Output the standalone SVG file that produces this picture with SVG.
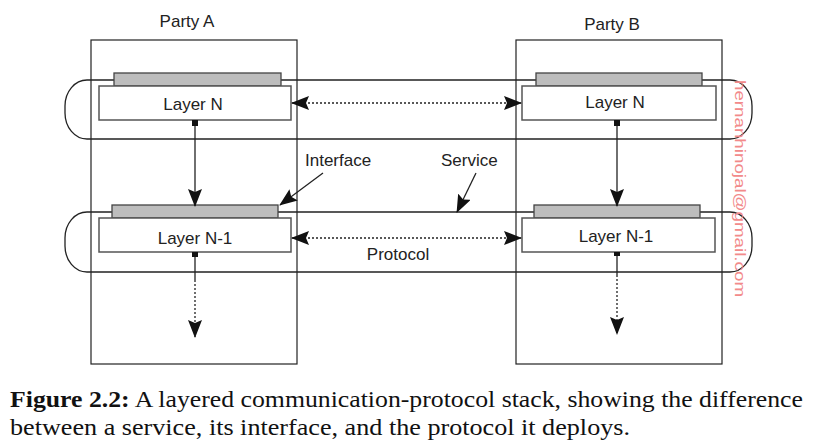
<svg xmlns="http://www.w3.org/2000/svg" width="840" height="448" viewBox="0 0 840 448">
<defs>
<marker id="ah" markerWidth="18" markerHeight="14" refX="17" refY="7" orient="auto" markerUnits="userSpaceOnUse">
<path d="M0,0 L18,7 L0,14 L3,7 Z" fill="#111"/>
</marker>
<marker id="ahs" markerWidth="18" markerHeight="14" refX="1" refY="7" orient="auto" markerUnits="userSpaceOnUse">
<path d="M18,0 L0,7 L18,14 L15,7 Z" fill="#111"/>
</marker>
</defs>
<style>
.party{fill:none;stroke:#222;stroke-width:1.2}
.band{fill:none;stroke:#222;stroke-width:1.3}
.layer{fill:#fff;stroke:#555;stroke-width:1.5}
.bar{fill:#bdbdbd;stroke:#444;stroke-width:1.3}
.t{font-family:"Liberation Sans",Arial,sans-serif;font-size:17px;fill:#222}
.c{font-family:"Liberation Serif","Times New Roman",serif;font-size:23px;fill:#111}
.ln{stroke:#222;stroke-width:1.3;fill:none}
.dot{stroke:#222;stroke-width:1.3;stroke-dasharray:2 2;fill:none}
</style>
<rect width="840" height="448" fill="#fff"/>
<g id="partyA"><rect class="party" x="91" y="40" width="206" height="324"/><text class="t" x="187" y="27" text-anchor="middle">Party A</text></g>
<g id="partyB"><rect class="party" x="516" y="40" width="206" height="324"/><text class="t" x="612" y="30" text-anchor="middle">Party B</text></g>
<g id="serviceN"><rect class="band" x="65" y="80" width="687" height="59" rx="22" ry="26"/></g>
<g id="serviceN1"><rect class="band" x="65" y="212" width="687" height="60" rx="22" ry="26"/></g>
<g id="layerNA"><rect class="bar" x="114" y="73" width="167" height="13"/><rect class="layer" x="99" y="86" width="192" height="34"/><text class="t" x="193" y="110" text-anchor="middle">Layer N</text><rect x="192" y="120" width="6" height="6" fill="#111"/></g>
<g id="layerNB"><rect class="bar" x="536" y="73" width="166" height="13"/><rect class="layer" x="522" y="86" width="194" height="34"/><text class="t" x="615" y="108" text-anchor="middle">Layer N</text><rect x="614" y="120" width="6" height="6" fill="#111"/></g>
<g id="layerN1A"><rect class="bar" x="112" y="205" width="166" height="13"/><rect class="layer" x="99" y="218" width="192" height="34"/><text class="t" x="195" y="244" text-anchor="middle">Layer N-1</text><rect x="192" y="252" width="6" height="5" fill="#111"/></g>
<g id="layerN1B"><rect class="bar" x="534" y="205" width="166" height="13"/><rect class="layer" x="522" y="218" width="193" height="34"/><text class="t" x="616" y="242" text-anchor="middle">Layer N-1</text><rect x="614" y="252" width="6" height="4" fill="#111"/></g>
<g id="labels">
<text class="t" x="305" y="166">Interface</text>
<text class="t" x="441" y="166">Service</text>
<text class="t" x="398" y="260" text-anchor="middle">Protocol</text>
<text x="735" y="80" transform="rotate(90 735 80)" font-family="Liberation Sans,Arial,sans-serif" font-size="15" fill="#f28a8a" textLength="217" lengthAdjust="spacingAndGlyphs">hernanhinojal@gmail.com</text>
</g>
<g id="connectors">
<line class="ln" x1="195" y1="126" x2="195" y2="206" marker-end="url(#ah)"/>
<line class="ln" x1="617" y1="126" x2="617" y2="206" marker-end="url(#ah)"/>
<line class="dot" x1="292" y1="103" x2="521" y2="103" marker-start="url(#ahs)" marker-end="url(#ah)"/>
<line class="dot" x1="292" y1="238" x2="521" y2="238" marker-start="url(#ahs)" marker-end="url(#ah)"/>
<line class="ln" x1="195" y1="257" x2="195" y2="280"/>
<line class="dot" x1="195" y1="280" x2="195" y2="337" marker-end="url(#ah)"/>
<line class="ln" x1="617" y1="256" x2="617" y2="275"/>
<line class="dot" x1="617" y1="275" x2="617" y2="334" marker-end="url(#ah)"/>
<line class="ln" x1="323" y1="173" x2="280" y2="205" marker-end="url(#ah)"/>
<line class="ln" x1="476" y1="173" x2="457" y2="212" marker-end="url(#ah)"/>
</g>
<g id="caption">
<text class="c" x="10" y="407" textLength="793" lengthAdjust="spacingAndGlyphs"><tspan font-weight="bold">Figure 2.2:</tspan> A layered communication-protocol stack, showing the difference</text>
<text class="c" x="10" y="435" textLength="620" lengthAdjust="spacingAndGlyphs">between a service, its interface, and the protocol it deploys.</text>
</g>
</svg>
